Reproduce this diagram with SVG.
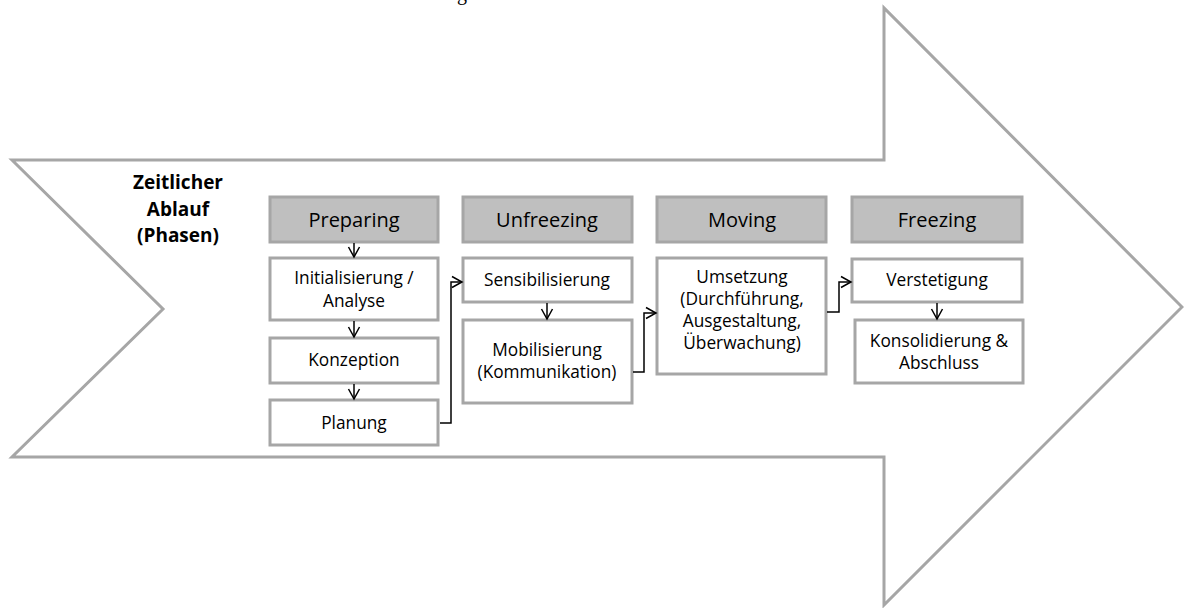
<svg xmlns="http://www.w3.org/2000/svg" width="1184" height="608" viewBox="0 0 1184 608">
  <style>
    .outline { fill: #ffffff; stroke: #a6a6a6; stroke-width: 3; stroke-linejoin: miter; }
    .head rect { fill: #bfbfbf; stroke: #a6a6a6; stroke-width: 3; }
    .step rect { fill: #ffffff; stroke: #a6a6a6; stroke-width: 3; }
    text { font-family: "Open Sans", "Liberation Sans", sans-serif; fill: #000000; text-anchor: middle; }
    .head text { font-size: 20px; }
    .step text { font-size: 17.3px; }
    .label { font-size: 19px; font-weight: bold; }
    .conn { fill: none; stroke: #000000; stroke-width: 1.5; marker-end: url(#open); }
  </style>
  <defs>
    <marker id="open" markerUnits="userSpaceOnUse" markerWidth="12" markerHeight="14" refX="11" refY="7" orient="auto" overflow="visible">
      <path d="M1,1.5 L11,7 L1,12.5" fill="none" stroke="#000000" stroke-width="1.5"/>
    </marker>
  </defs>

  <rect width="1184" height="608" fill="#ffffff"/>

  <!-- title descender clipped at the top edge -->
  <text x="462" y="0" style="font-family: 'Liberation Serif', serif; font-size: 20px;">g</text>

  <!-- large time arrow -->
  <polygon class="outline" points="12,160 884,160 884,8 1182,307 884,605 884,457 12,457 163,309"/>

  <g id="zeitlicher-ablauf">
    <text class="label" x="178" y="189">Zeitlicher</text>
    <text class="label" x="178" y="216">Ablauf</text>
    <text class="label" x="178" y="242">(Phasen)</text>
  </g>

  <!-- phase headers -->
  <g id="preparing" class="head">
    <rect x="270" y="197" width="168" height="45"/>
    <text x="354" y="227">Preparing</text>
  </g>
  <g id="unfreezing" class="head">
    <rect x="463" y="197" width="169" height="45"/>
    <text x="547" y="227">Unfreezing</text>
  </g>
  <g id="moving" class="head">
    <rect x="657" y="197" width="169" height="45"/>
    <text x="742" y="227">Moving</text>
  </g>
  <g id="freezing" class="head">
    <rect x="852" y="197" width="170" height="45"/>
    <text x="937" y="227">Freezing</text>
  </g>

  <!-- steps -->
  <g id="initialisierung" class="step">
    <rect x="270" y="258" width="168" height="62"/>
    <text x="354" y="284">Initialisierung /</text>
    <text x="354" y="307">Analyse</text>
  </g>
  <g id="konzeption" class="step">
    <rect x="270" y="338" width="168" height="45"/>
    <text x="354" y="366">Konzeption</text>
  </g>
  <g id="planung" class="step">
    <rect x="270" y="400" width="168" height="45"/>
    <text x="354" y="429">Planung</text>
  </g>
  <g id="sensibilisierung" class="step">
    <rect x="463" y="258" width="169" height="44"/>
    <text x="547" y="286">Sensibilisierung</text>
  </g>
  <g id="mobilisierung" class="step">
    <rect x="463" y="320" width="169" height="83"/>
    <text x="547" y="356">Mobilisierung</text>
    <text x="547" y="378">(Kommunikation)</text>
  </g>
  <g id="umsetzung" class="step">
    <rect x="657" y="258" width="169" height="116"/>
    <text x="742" y="283">Umsetzung</text>
    <text x="742" y="305">(Durchführung,</text>
    <text x="742" y="327">Ausgestaltung,</text>
    <text x="742" y="349">Überwachung)</text>
  </g>
  <g id="verstetigung" class="step">
    <rect x="852" y="259" width="170" height="43"/>
    <text x="937" y="286">Verstetigung</text>
  </g>
  <g id="konsolidierung" class="step">
    <rect x="855" y="320" width="168" height="63"/>
    <text x="939" y="347">Konsolidierung &amp;</text>
    <text x="939" y="369">Abschluss</text>
  </g>

  <!-- connectors -->
  <g id="connectors">
    <path class="conn" d="M354,243 L354,257"/>
    <path class="conn" d="M354,321 L354,337"/>
    <path class="conn" d="M354,384 L354,399"/>
    <path class="conn" d="M440,423 L451,423 L451,282 L462,282"/>
    <path class="conn" d="M547,303 L547,319"/>
    <path class="conn" d="M633,372 L644,372 L644,313 L656,313"/>
    <path class="conn" d="M827,312 L839,312 L839,282 L851,282"/>
    <path class="conn" d="M937,303 L937,319"/>
  </g>
</svg>
